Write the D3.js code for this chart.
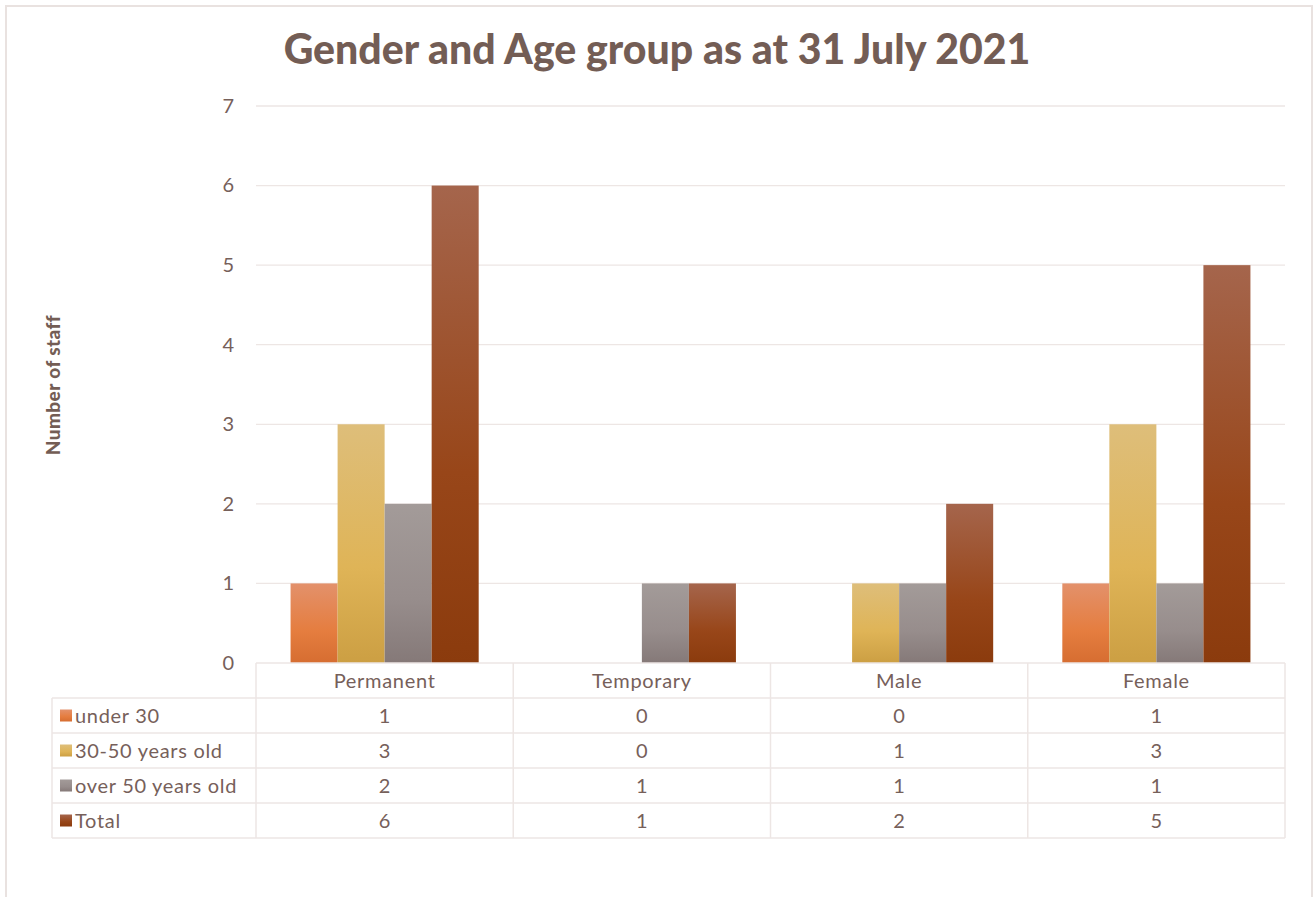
<!DOCTYPE html>
<html><head><meta charset="utf-8">
<script src="https://cdn.jsdelivr.net/npm/d3@7"></script>
<style>body{margin:0;background:#fff;} svg{display:block;}</style>
</head><body>
<svg id="c" width="1314" height="897"></svg>
<script>
const categories = ["Permanent", "Temporary", "Male", "Female"];
const seriesNames = ["under 30", "30-50 years old", "over 50 years old", "Total"];
const under30 = [1, 0, 0, 1];
const age30to50 = [3, 0, 1, 3];
const over50 = [2, 1, 1, 1];
const total = [6, 1, 2, 5];
const yTicks = [0, 1, 2, 3, 4, 5, 6, 7];
const title = "Gender and Age group as at 31 July 2021";
const yTitle = "Number of staff";

(function(){
const series = [under30, age30to50, over50, total];
const grads = [
  ["#e3916b", "#e57d3f", "#d66d31"],
  ["#debe7a", "#dfb457", "#cc9f43"],
  ["#a39b99", "#978d8c", "#857978"],
  ["#a5654c", "#984619", "#8b3b0d"]
];
const txt = "#76605a";
const grid = "#ede6e4";
const font = "Lato, 'Open Sans', sans-serif";
const fs = 20, ls = 0.7;

const svg = d3.select("#c");
const defs = svg.append("defs");
grads.forEach((g, i) => {
  const lg = defs.append("linearGradient").attr("id", "g" + i).attr("x1", 0).attr("y1", 0).attr("x2", 0).attr("y2", 1);
  lg.append("stop").attr("offset", "0%").attr("stop-color", g[0]);
  lg.append("stop").attr("offset", "60%").attr("stop-color", g[1]);
  lg.append("stop").attr("offset", "100%").attr("stop-color", g[2]);
});

// frame
svg.append("path").attr("d", "M6,897 V6 H1312 V897").attr("fill", "none").attr("stroke", "#e9e2e0").attr("stroke-width", 2);

const pLeft = 256, pRight = 1285, pTop = 106, pBottom = 663;
const x = d3.scaleBand().domain(categories).range([pLeft, pRight]).paddingInner(0).paddingOuter(0);
const inner = d3.scaleBand().domain(d3.range(4)).range([0, x.bandwidth()]).paddingOuter(0.735).paddingInner(0);
const y = d3.scaleLinear().domain([0, 7]).range([pBottom, pTop]);

// gridlines
svg.append("g").selectAll("line").data(yTicks.slice(1)).join("line")
  .attr("x1", pLeft).attr("x2", pRight).attr("y1", d => y(d)).attr("y2", d => y(d))
  .attr("stroke", grid).attr("stroke-width", 1.3);

// y axis labels
const yAxis = d3.axisLeft(y).tickValues(yTicks).tickSize(0).tickPadding(22).tickFormat(d3.format("d"));
const ya = svg.append("g").attr("transform", `translate(${pLeft},0)`).call(yAxis);
ya.select(".domain").remove();
ya.selectAll("text").attr("fill", txt).attr("font-family", font).attr("font-size", fs);

// bars
series.forEach((vals, si) => {
  svg.append("g").selectAll("rect").data(vals.map((v, ci) => ({v, c: categories[ci]})).filter(d => d.v > 0)).join("rect")
    .attr("x", d => x(d.c) + inner(si)).attr("width", inner.bandwidth())
    .attr("y", d => y(d.v)).attr("height", d => y(0) - y(d.v))
    .attr("fill", `url(#g${si})`);
});

// data table
const rowH = 35;
const tableLeft = 52;
const tg = svg.append("g");
const tStroke = "#ede6e4";
tg.append("line").attr("x1", pLeft).attr("x2", pRight).attr("y1", pBottom).attr("y2", pBottom).attr("stroke", tStroke).attr("stroke-width", 1.5);
for (let r = 1; r <= 5; r++) {
  tg.append("line").attr("x1", tableLeft).attr("x2", pRight).attr("y1", pBottom + r * rowH).attr("y2", pBottom + r * rowH).attr("stroke", tStroke).attr("stroke-width", 1.5);
}
tg.append("line").attr("x1", tableLeft).attr("x2", tableLeft).attr("y1", pBottom + rowH).attr("y2", pBottom + 5 * rowH).attr("stroke", tStroke).attr("stroke-width", 1.5);
categories.concat(["end"]).forEach((c, i) => {
  const xx = i < 4 ? x(c) : pRight;
  tg.append("line").attr("x1", xx).attr("x2", xx).attr("y1", pBottom).attr("y2", pBottom + 5 * rowH).attr("stroke", tStroke).attr("stroke-width", 1.5);
});
tg.selectAll("text.hdr").data(categories).join("text").attr("class", "hdr")
  .attr("x", d => x(d) + x.bandwidth() / 2).attr("y", pBottom + rowH / 2 + 7)
  .attr("text-anchor", "middle").attr("fill", txt).attr("font-family", font).attr("font-size", fs).attr("letter-spacing", ls).text(d => d);
series.forEach((vals, si) => {
  const cy = pBottom + rowH * (si + 1) + rowH / 2;
  tg.append("rect").attr("x", 60).attr("y", cy - 6).attr("width", 12).attr("height", 12).attr("fill", `url(#g${si})`);
  tg.append("text").attr("x", 75).attr("y", cy + 7).attr("fill", txt).attr("font-family", font).attr("font-size", fs).attr("letter-spacing", ls).text(seriesNames[si]);
  tg.selectAll(null).data(vals).join("text")
    .attr("x", (d, ci) => x(categories[ci]) + x.bandwidth() / 2).attr("y", cy + 7)
    .attr("text-anchor", "middle").attr("fill", txt).attr("font-family", font).attr("font-size", fs).text(d => d);
});

// title
const t = svg.append("text").attr("x", 657).attr("y", 64).attr("text-anchor", "middle")
  .attr("fill", "#735d55").attr("font-family", font).attr("font-weight", 900).attr("font-size", 36).text(title);
const tw = t.node().getComputedTextLength();
t.attr("font-size", 36 * 747 / tw);

// y title
svg.append("text").attr("transform", "translate(60,385) rotate(-90)").attr("text-anchor", "middle")
  .attr("fill", "#735d55").attr("font-family", font).attr("font-weight", 900).attr("font-size", 19).attr("letter-spacing", 0.4).text(yTitle);
})();
</script>
</body></html>
